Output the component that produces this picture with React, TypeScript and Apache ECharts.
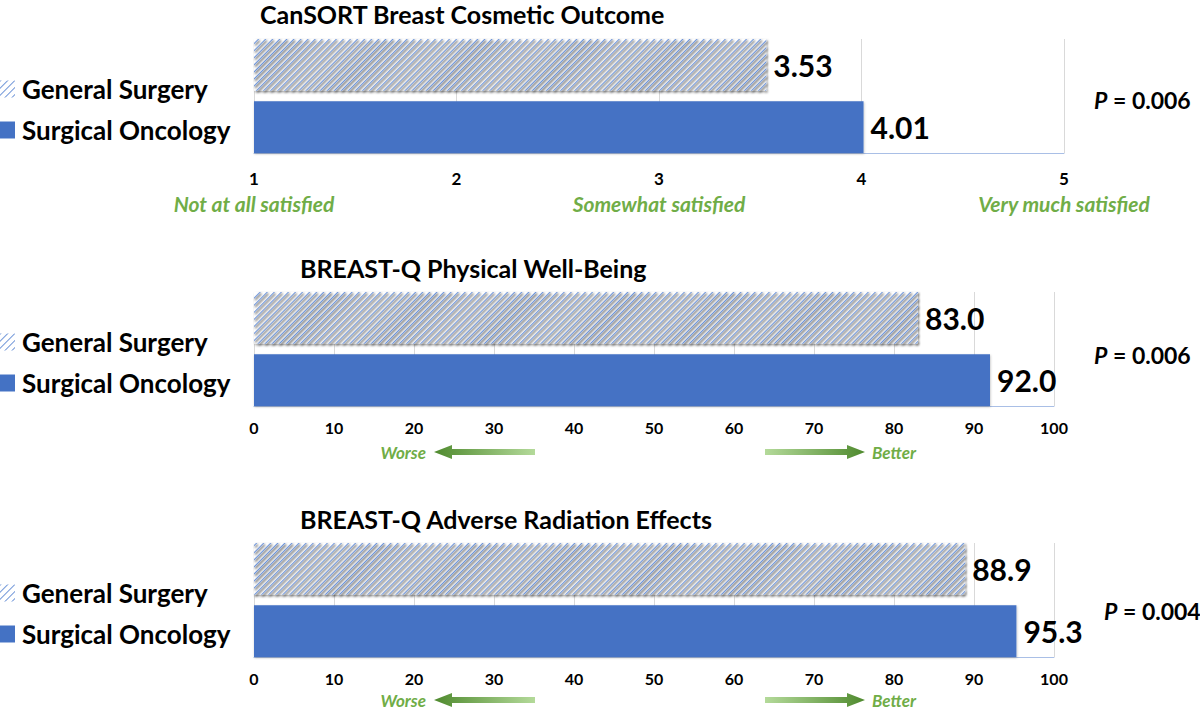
import React, { useEffect, useRef } from "react";
import * as echarts from "echarts";

const groups = ["General Surgery", "Surgical Oncology"];
const chartTitles = [
  "CanSORT Breast Cosmetic Outcome",
  "BREAST-Q Physical Well-Being",
  "BREAST-Q Adverse Radiation Effects",
];
const cosmeticValues = [3.53, 4.01];
const physicalValues = [83.0, 92.0];
const radiationValues = [88.9, 95.3];
const pValues = ["0.006", "0.006", "0.004"];
const satisfactionLabels: Record<number, string> = {
  1: "Not at all satisfied",
  3: "Somewhat satisfied",
  5: "Very much satisfied",
};
const directionLabels = ["Worse", "Better"];

const FONT = "Lato, 'Open Sans', sans-serif";
const BLUE = "#4472C4";
const GREEN = "#70AD47";

export default function App() {
  const ref = useRef<HTMLDivElement>(null);
  useEffect(() => {
    if (!ref.current) return;
    const chart = echarts.init(ref.current, undefined, { renderer: "svg" });

    const panels = [
      { values: cosmeticValues, min: 1, max: 5, interval: 1, digits: 2, top: 39, right: 136, titleLeft: 260, titleTop: 1, legendTop: 76, pLeft: 1094, pY: 100 },
      { values: physicalValues, min: 0, max: 100, interval: 10, digits: 1, top: 292, right: 146, titleLeft: 300, titleTop: 255, legendTop: 329, pLeft: 1094, pY: 355 },
      { values: radiationValues, min: 0, max: 100, interval: 10, digits: 1, top: 543, right: 146, titleLeft: 300, titleTop: 506, legendTop: 580, pLeft: 1104, pY: 611 },
    ];

    const hatch = {
      symbol: "rect",
      symbolSize: 1,
      color: "#6F95D8",
      backgroundColor: "#ffffff",
      dashArrayX: [1, 0],
      dashArrayY: [0.9, 3.1],
      rotation: -Math.PI / 4,
    };

    const grid = panels.map((p) => ({ left: 254, right: p.right, top: p.top, height: 114 }));
    const xAxis = panels.map((p, i) => ({
      type: "value",
      gridIndex: i,
      min: p.min,
      max: p.max,
      interval: p.interval,
      axisLine: { show: true, lineStyle: { color: "#A9BFE6", width: 1 } },
      axisTick: { show: false },
      splitLine: { show: true, lineStyle: { color: "#D9D9D9", width: 1 } },
      axisLabel: {
        show: true,
        margin: i === 0 ? 18 : 13,
        color: "#000",
        fontFamily: FONT,
        fontWeight: "bold",
        fontSize: 16,
        lineHeight: 16,
        showMaxLabel: true,
        showMinLabel: true,
        formatter:
          i === 0
            ? (v: number) =>
                satisfactionLabels[v]
                  ? `{n|${v}}\n{g|${satisfactionLabels[v]}}`
                  : `{n|${v}}`
            : (v: number) => `${v}`,
        rich: {
          n: { fontFamily: FONT, fontWeight: "bold", fontSize: 17, color: "#000", lineHeight: 14 },
          g: { fontFamily: FONT, fontWeight: "bold", fontStyle: "italic", fontSize: 21, color: GREEN, lineHeight: 36 },
        },
      },
    }));
    const yAxis = panels.map((_, i) => ({
      type: "category",
      gridIndex: i,
      data: ["score"],
      show: false,
    }));

    const series: any[] = [];
    panels.forEach((p, i) => {
      groups.forEach((g, k) => {
        series.push({
          type: "bar",
          name: g,
          xAxisIndex: i,
          yAxisIndex: i,
          data: [p.values[k]],
          barCategoryGap: "0%",
          barGap: "20%",
          itemStyle:
            k === 0
              ? { color: "#ffffff", decal: hatch, shadowColor: "rgba(0,0,0,0.35)", shadowBlur: 2, shadowOffsetX: 1, shadowOffsetY: 1.5 }
              : { color: BLUE, shadowColor: "rgba(0,0,0,0.25)", shadowBlur: 2, shadowOffsetX: 0.5, shadowOffsetY: 1 },
          label: {
            show: true,
            position: "right",
            distance: 7,
            color: "#000",
            fontFamily: FONT,
            fontWeight: "bold",
            fontSize: 30,
            formatter: (d: any) => Number(d.value).toFixed(p.digits),
          },
        });
      });
    });

    const title = panels.map((p, i) => ({
      text: chartTitles[i],
      left: p.titleLeft,
      top: p.titleTop,
      padding: 0,
      textStyle: { fontFamily: FONT, fontWeight: "bold", fontSize: 25, color: "#000" },
    }));

    const legend = panels.map((p) => ({
      data: groups,
      orient: "vertical",
      left: 0,
      top: p.legendTop,
      padding: 0,
      itemGap: 15,
      itemWidth: 15,
      itemHeight: 17,
      icon: "rect",
      selectedMode: false,
      textStyle: { fontFamily: FONT, fontWeight: "bold", fontSize: 26, color: "#000", lineHeight: 26, padding: [0, 0, 0, 2] },
    }));

    const graphic: any[] = [];
    panels.forEach((p, i) => {
      graphic.push({
        type: "text",
        left: p.pLeft,
        top: p.pY - 12,
        style: {
          text: `{i|P}{b| = ${pValues[i]}}`,
          rich: {
            i: { fontFamily: FONT, fontWeight: "bold", fontStyle: "italic", fontSize: 23, fill: "#000" },
            b: { fontFamily: FONT, fontWeight: "bold", fontSize: 23, fill: "#000" },
          },
        },
      });
    });
    [452, 700].forEach((y) => {
      graphic.push({
        type: "polygon",
        shape: {
          points: [[434, y], [452, y - 7], [452, y - 3], [535, y - 3], [535, y + 3], [452, y + 3], [452, y + 7]],
        },
        style: {
          fill: new echarts.graphic.LinearGradient(0, 0, 1, 0, [
            { offset: 0, color: "#4F8A2E" },
            { offset: 1, color: "#B4DA9A" },
          ]),
        },
      });
      graphic.push({
        type: "polygon",
        shape: {
          points: [[865, y], [847, y - 7], [847, y - 3], [765, y - 3], [765, y + 3], [847, y + 3], [847, y + 7]],
        },
        style: {
          fill: new echarts.graphic.LinearGradient(0, 0, 1, 0, [
            { offset: 0, color: "#B4DA9A" },
            { offset: 1, color: "#4F8A2E" },
          ]),
        },
      });
      const textStyle = {
        verticalAlign: "middle",
        fontFamily: FONT,
        fontWeight: "bold",
        fontStyle: "italic",
        fontSize: 17,
        lineHeight: 17,
        fill: GREEN,
      };
      graphic.push({
        type: "text",
        x: 426,
        y: y,
        style: { ...textStyle, text: directionLabels[0], align: "right" },
      });
      graphic.push({
        type: "text",
        x: 872,
        y: y,
        style: { ...textStyle, text: directionLabels[1], align: "left" },
      });
    });

    chart.setOption({
      animation: false,
      backgroundColor: "#ffffff",
      title,
      legend,
      grid,
      xAxis,
      yAxis,
      series,
      graphic,
    });
    return () => chart.dispose();
  }, []);

  return (
    <div
      ref={ref}
      style={{ position: "absolute", left: 0, top: 0, width: 1200, height: 711 }}
    />
  );
}
